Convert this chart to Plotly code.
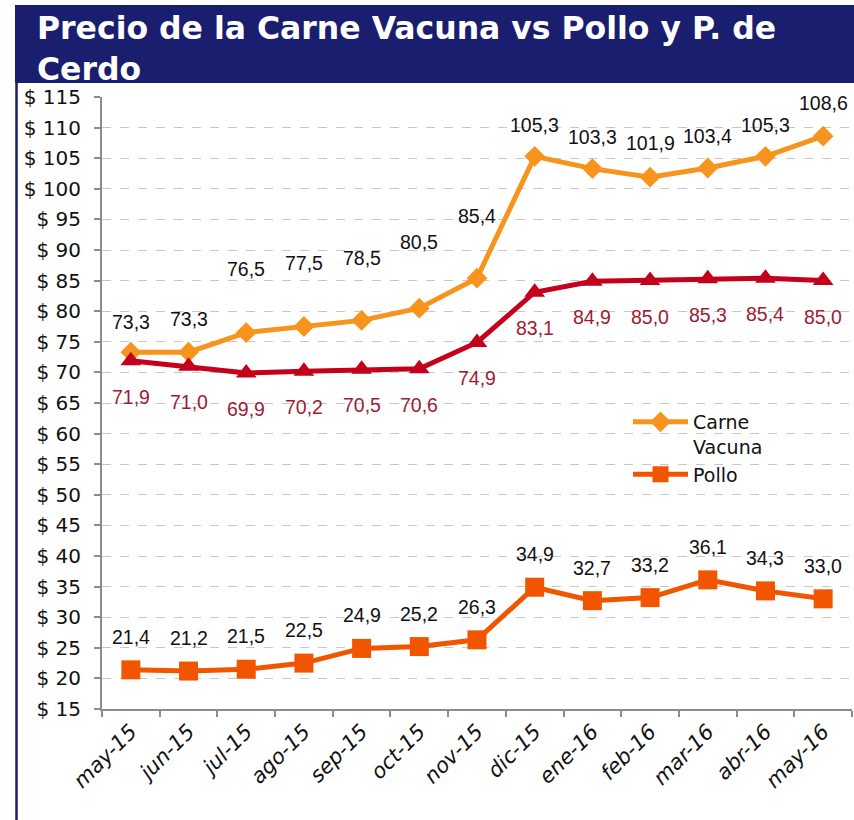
import plotly.graph_objects as go

# ---- data ----
meses = ["may-15", "jun-15", "jul-15", "ago-15", "sep-15", "oct-15", "nov-15",
         "dic-15", "ene-16", "feb-16", "mar-16", "abr-16", "may-16"]
carne_vacuna = [73.3, 73.3, 76.5, 77.5, 78.5, 80.5, 85.4, 105.3, 103.3, 101.9, 103.4, 105.3, 108.6]
cerdo = [71.9, 71.0, 69.9, 70.2, 70.5, 70.6, 74.9, 83.1, 84.9, 85.0, 85.3, 85.4, 85.0]
pollo = [21.4, 21.2, 21.5, 22.5, 24.9, 25.2, 26.3, 34.9, 32.7, 33.2, 36.1, 34.3, 33.0]

# ---- styling ----
C_CARNE = "#F7941D"
C_CERDO = "#C4001A"
C_CERDO_TXT = "#9E1B32"
C_POLLO = "#F25500"
NAVY = "#1A1E6E"
LABEL_FONT = "Liberation Sans, Arial"
LABEL_SIZE = 19.5
carne_label_offset = [30, 33, 64, 64, 62, 66, 62, 31, 32, 34, 32, 31, 33]

W, H = 854, 820
ML, MR, MT, MB = 102, 2, 97, 111
PW, PH = W - ML - MR, H - MT - MB


def px2x(px):
    return (px - ML) / PW


def px2y(py):
    return (H - MB - py) / PH


def fmt(v):
    return f"{v:.1f}".replace(".", ",")


fig = go.Figure()
fig.add_trace(go.Scatter(
    x=meses, y=carne_vacuna, name="Carne<br>Vacuna", mode="lines+markers",
    line=dict(color=C_CARNE, width=5),
    marker=dict(symbol="diamond", size=16, color=C_CARNE)))
fig.add_trace(go.Scatter(
    x=meses, y=cerdo, name="P. de Cerdo", mode="lines+markers", showlegend=False,
    line=dict(color=C_CERDO, width=5),
    marker=dict(symbol="triangle-up", size=18, color=C_CERDO)))
fig.add_trace(go.Scatter(
    x=meses, y=pollo, name="Pollo", mode="lines+markers",
    line=dict(color=C_POLLO, width=5),
    marker=dict(symbol="square", size=19, color=C_POLLO)))

annotations = []
for m, v, off in zip(meses, carne_vacuna, carne_label_offset):
    annotations.append(dict(x=m, y=v, text=fmt(v), showarrow=False, yshift=off,
                            font=dict(family=LABEL_FONT, size=LABEL_SIZE, color="#111111")))
for m, v in zip(meses, cerdo):
    annotations.append(dict(x=m, y=v, text=fmt(v), showarrow=False, yshift=-36,
                            font=dict(family=LABEL_FONT, size=LABEL_SIZE, color=C_CERDO_TXT)))
for m, v in zip(meses, pollo):
    annotations.append(dict(x=m, y=v, text=fmt(v), showarrow=False, yshift=33,
                            font=dict(family=LABEL_FONT, size=LABEL_SIZE, color="#111111")))

# title as annotation inside the navy banner
annotations.append(dict(
    text="Precio de la Carne Vacuna vs Pollo y P. de<br>Cerdo",
    xref="paper", yref="paper", x=px2x(35), y=px2y(8),
    xanchor="left", yanchor="top", align="left", showarrow=False,
    font=dict(family="DejaVu Sans", size=31.5, color="white", weight="bold")))

shapes = [
    dict(type="rect", xref="paper", yref="paper",
         x0=px2x(15), x1=px2x(856), y0=px2y(83), y1=px2y(5),
         fillcolor=NAVY, line=dict(width=0), layer="below"),
    dict(type="line", xref="paper", yref="paper",
         x0=px2x(16.5), x1=px2x(16.5), y0=px2y(822), y1=px2y(83),
         line=dict(color=NAVY, width=2.5)),
]

fig.update_layout(
    width=W, height=H,
    margin=dict(l=ML, r=MR, t=MT, b=MB, autoexpand=False),
    paper_bgcolor="white", plot_bgcolor="white",
    separators=",.",
    shapes=shapes,
    annotations=annotations,
    showlegend=True,
    legend=dict(x=px2x(628), y=px2y(403), xanchor="left", yanchor="top",
                bgcolor="rgba(0,0,0,0)", valign="top", itemwidth=55,
                font=dict(family="DejaVu Sans", size=19, color="#111111")),
    xaxis=dict(type="category", range=[-0.5, len(meses) - 0.5],
               tickangle=-45, showgrid=False, automargin=False,
               showline=True, linecolor="#8C8C8C", linewidth=2,
               ticks="outside", tickson="boundaries", ticklen=6, tickcolor="#8C8C8C",
               tickwidth=2,
               tickfont=dict(family="DejaVu Sans", size=21, color="#111111", style="italic")),
    yaxis=dict(range=[15, 115], dtick=5, tickprefix="$ ", automargin=False,
               showline=True, linecolor="#8C8C8C", linewidth=2,
               ticks="outside", ticklen=6, tickcolor="#8C8C8C", tickwidth=2,
               showgrid=True, gridcolor="#C8C8C8", griddash="dash", gridwidth=1,
               zeroline=False, ticklabelstandoff=9,
               tickfont=dict(family="DejaVu Sans", size=20, color="#111111")),
)

fig.write_html("out.html", config={"displayModeBar": False})

# remove the default page margin so the figure sits at the window's corner
with open("out.html", "r", encoding="utf-8") as f:
    html = f.read()
html = html.replace("<head>", "<head><style>html,body{margin:0;padding:0;overflow:hidden;}</style>", 1)
with open("out.html", "w", encoding="utf-8") as f:
    f.write(html)
